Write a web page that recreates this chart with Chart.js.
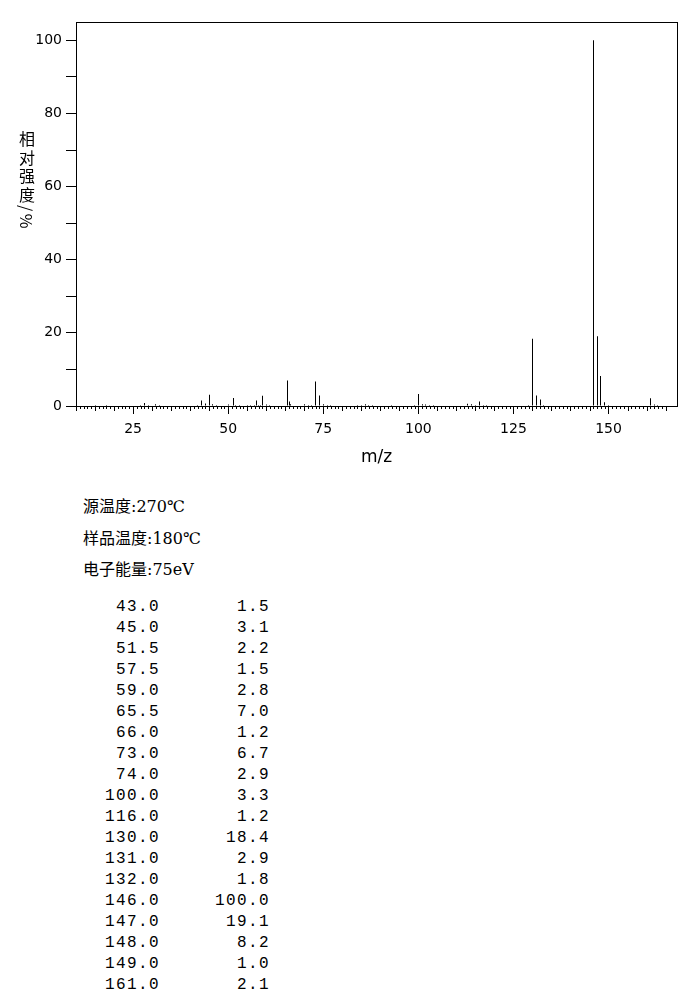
<!DOCTYPE html>
<html>
<head>
<meta charset="utf-8">
<script src="https://cdn.jsdelivr.net/npm/chart.js@4.4.1/dist/chart.umd.min.js"></script>
<style>
  body { margin: 0; background: #fff; width: 687px; height: 990px; position: relative; overflow: hidden; }
  #chartBox { position: absolute; left: 0; top: 0; width: 687px; height: 470px; }
  #yTitle { position: absolute; left: 15px; top: 131px; writing-mode: vertical-rl; font: 16px "Noto Sans CJK SC", sans-serif; letter-spacing: 2.5px; color: #000; }
  .info { position: absolute; left: 83px; font: 16px "DejaVu Serif", "Noto Sans CJK SC", serif; color: #000; }
  .cell { position: absolute; font: 16px "Liberation Mono", monospace; letter-spacing: 1.4px; text-align: right; color: #000; }
</style>
</head>
<body>
<div id="chartBox"><canvas id="msChart"></canvas></div>
<div id="yTitle">相对强度/%</div>
<div id="infoBox"></div>
<div id="peakTable"></div>
<script>
// peaks listed in the table
const peakMz  = [43.0, 45.0, 51.5, 57.5, 59.0, 65.5, 66.0, 73.0, 74.0, 100.0, 116.0, 130.0, 131.0, 132.0, 146.0, 147.0, 148.0, 149.0, 161.0];
const peakInt = [1.5, 3.1, 2.2, 1.5, 2.8, 7.0, 1.2, 6.7, 2.9, 3.3, 1.2, 18.4, 2.9, 1.8, 100.0, 19.1, 8.2, 1.0, 2.1];

// small peaks only seen in the plot (estimated)
const minorMz  = [15, 18, 27, 28, 29, 31, 32, 42, 44, 46, 47, 50, 52, 53, 55, 56, 57, 58, 58.5, 60, 61, 66.5, 70, 71, 72, 75, 76, 77, 84, 85, 86, 87, 88, 93, 99, 101, 102, 103, 104, 113, 114, 115, 117, 118, 129, 133, 150, 162, 163];
const minorInt = [0.3, 0.3, 0.3, 0.8, 0.3, 0.5, 0.3, 0.3, 0.7, 0.5, 0.3, 0.4, 0.3, 0.3, 0.3, 0.3, 0.3, 0.3, 0.3, 0.4, 0.3, 0.5, 0.5, 0.3, 0.3, 0.5, 0.3, 0.3, 0.3, 0.3, 0.5, 0.3, 0.3, 0.3, 0.3, 0.5, 0.4, 0.3, 0.3, 0.6, 0.5, 0.3, 0.3, 0.3, 0.3, 0.3, 0.3, 0.4, 0.3];

const xMajorTicks = [25, 50, 75, 100, 125, 150];
const yTickValues = [0, 10, 20, 30, 40, 50, 60, 70, 80, 90, 100];
const infoLines = ['源温度:270℃', '样品温度:180℃', '电子能量:75eV'];

const xMin = 10, xMax = 168, minorEnd = 165;

// snap the 1px bars onto whole pixels so they stay crisp black
const snapBars = {
  id: 'snapBars',
  beforeDatasetsDraw(chart) {
    chart.getDatasetMeta(0).data.forEach(el => { el.x = Math.floor(el.x) + 0.5; });
  }
};

const frameAndTicks = {
  id: 'frameAndTicks',
  afterDraw(chart) {
    const { ctx, chartArea: a, scales: { x } } = chart;
    ctx.save();
    ctx.strokeStyle = '#000';
    ctx.lineWidth = 1;
    ctx.strokeRect(Math.round(a.left) + 0.5, Math.round(a.top) + 0.5, Math.round(a.right - a.left), Math.round(a.bottom - a.top));
    ctx.beginPath();
    for (let v = xMin; v <= minorEnd; v++) {
      if (v % 25 === 0) continue;
      const px = Math.round(x.getPixelForValue(v)) + 0.5;
      const len = v % 5 === 0 ? 5 : 3;
      ctx.moveTo(px, a.bottom);
      ctx.lineTo(px, a.bottom + len);
    }
    ctx.stroke();
    ctx.restore();
  }
};

const points = peakMz.map((m, i) => ({ x: m, y: peakInt[i] }))
  .concat(minorMz.map((m, i) => ({ x: m, y: minorInt[i] })))
  .sort((p, q) => p.x - q.x);

new Chart(document.getElementById('msChart'), {
  type: 'bar',
  data: {
    datasets: [{
      data: points,
      backgroundColor: '#000',
      borderWidth: 0,
      inflateAmount: 0,
      barThickness: 1
    }]
  },
  options: {
    responsive: true,
    maintainAspectRatio: false,
    animation: false,
    layout: { padding: { top: 22, right: 10, left: 0, bottom: 0 } },
    plugins: { legend: { display: false }, tooltip: { enabled: false } },
    scales: {
      x: {
        type: 'linear',
        offset: false,
        min: xMin,
        max: xMax,
        afterBuildTicks: s => { s.ticks = xMajorTicks.map(v => ({ value: v })); },
        afterFit: s => { s.height = 64; },
        grid: { drawOnChartArea: false, offset: false, tickLength: 8, color: '#000' },
        border: { color: '#000' },
        ticks: { color: '#000', font: { family: 'DejaVu Sans', size: 14 }, padding: 7, maxRotation: 0 },
        title: { display: true, text: 'm/z', color: '#000', font: { family: 'DejaVu Sans', size: 17 }, padding: { top: 0, bottom: 2 } }
      },
      y: {
        min: 0,
        max: 105,
        afterBuildTicks: s => { s.ticks = yTickValues.map(v => ({ value: v })); },
        afterFit: s => { s.width = 76; },
        grid: { drawOnChartArea: false, tickLength: 10, color: '#000' },
        border: { color: '#000' },
        ticks: { color: '#000', font: { family: 'DejaVu Sans', size: 14 }, padding: 4,
                 callback: v => (v % 20 === 0 ? v : '') }
      }
    }
  },
  plugins: [snapBars, frameAndTicks]
});

const infoBox = document.getElementById('infoBox');
infoLines.forEach((t, i) => {
  const d = document.createElement('div');
  d.className = 'info';
  d.style.top = (493 + i * 31.5) + 'px';
  d.textContent = t;
  infoBox.appendChild(d);
});

const table = document.getElementById('peakTable');
peakMz.forEach((m, i) => {
  const top = 598 + i * 21;
  const c1 = document.createElement('div');
  c1.className = 'cell';
  c1.style.top = top + 'px';
  c1.style.right = (687 - 160) + 'px';
  c1.textContent = m.toFixed(1);
  const c2 = document.createElement('div');
  c2.className = 'cell';
  c2.style.top = top + 'px';
  c2.style.right = (687 - 270) + 'px';
  c2.textContent = peakInt[i].toFixed(1);
  table.appendChild(c1);
  table.appendChild(c2);
});
</script>
</body>
</html>
